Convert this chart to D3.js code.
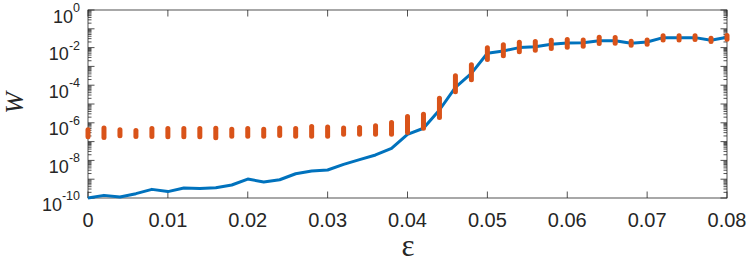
<!DOCTYPE html>
<html><head><meta charset="utf-8">
<script src="https://cdn.jsdelivr.net/npm/d3@7"></script>
<style>body{margin:0;background:#fff}svg{display:block}</style>
</head><body>
<svg id="chart" width="747" height="263"></svg>
<script>
const epsilon = [0,0.002,0.004,0.006,0.008,0.01,0.012,0.014,0.016,0.018,0.02,0.022,0.024,0.026,0.028,0.03,0.032,0.034,0.036,0.038,0.04,0.042,0.044,0.046,0.048,0.05,0.052,0.054,0.056,0.058,0.06,0.062,0.064,0.066,0.068,0.07,0.072,0.074,0.076,0.078,0.08];
const wLine = [1.0e-10,1.38e-10,1.12e-10,1.70e-10,2.88e-10,2.19e-10,3.39e-10,3.16e-10,3.55e-10,4.90e-10,1.02e-9,7.08e-10,9.33e-10,1.95e-9,2.75e-9,3.09e-9,6.17e-9,1.10e-8,1.95e-8,4.37e-8,2.45e-7,5.13e-7,4.79e-6,7.76e-5,4.27e-4,5.01e-3,6.61e-3,1.00e-2,1.12e-2,1.51e-2,1.74e-2,1.82e-2,2.34e-2,2.34e-2,1.70e-2,2.00e-2,3.39e-2,3.39e-2,3.39e-2,2.45e-2,3.55e-2];
const errHigh = [4.27e-7,5.37e-7,4.27e-7,3.89e-7,5.01e-7,5.01e-7,5.01e-7,5.01e-7,5.13e-7,4.57e-7,5.01e-7,4.57e-7,5.37e-7,5.01e-7,6.31e-7,5.89e-7,5.37e-7,5.62e-7,6.92e-7,1.05e-6,2.19e-6,2.88e-6,2.04e-5,3.16e-4,1.23e-3,9.77e-3,1.41e-2,1.95e-2,2.09e-2,2.45e-2,2.69e-2,2.57e-2,3.55e-2,3.47e-2,2.19e-2,2.57e-2,4.27e-2,4.27e-2,4.27e-2,3.16e-2,4.37e-2];
const errLow = [1.82e-7,1.66e-7,2.04e-7,1.86e-7,1.86e-7,1.82e-7,1.82e-7,1.82e-7,1.58e-7,1.95e-7,1.95e-7,1.95e-7,2.09e-7,1.95e-7,1.95e-7,1.95e-7,2.45e-7,2.45e-7,2.45e-7,2.45e-7,3.02e-7,5.13e-7,1.91e-6,4.47e-5,1.95e-4,2.34e-3,3.63e-3,6.03e-3,7.24e-3,8.91e-3,1.05e-2,1.17e-2,1.66e-2,1.70e-2,1.35e-2,1.51e-2,2.57e-2,2.57e-2,2.69e-2,2.09e-2,2.82e-2];
const xTicks = [0,0.01,0.02,0.03,0.04,0.05,0.06,0.07,0.08];
const xTickLabels = ["0","0.01","0.02","0.03","0.04","0.05","0.06","0.07","0.08"];
const yLabelExps = [0,-2,-4,-6,-8,-10];

const L=88, R=727, T=10, B=198;
const axisColor = "#262626";
const svg = d3.select("#chart");
const x = d3.scaleLinear().domain([0,0.08]).range([L,R]);
const y = d3.scaleLog().domain([1e-10,1]).range([B,T]);

const majorY = d3.range(-10,1).map(e=>Math.pow(10,e));
const minorY = [];
for (let e=-10;e<0;e++) for (let m=2;m<=9;m++) minorY.push(m*Math.pow(10,e));

const g = svg.append("g");
g.append("rect").attr("x",L).attr("y",T).attr("width",R-L).attr("height",B-T)
 .attr("fill","none").attr("stroke",axisColor).attr("stroke-width",0.8);

const tickG = g.append("g").attr("stroke",axisColor).attr("stroke-width",0.8);
const majLen = 6.5, minLen = 3.5;
xTicks.forEach(v=>{
  tickG.append("line").attr("x1",x(v)).attr("x2",x(v)).attr("y1",B).attr("y2",B-majLen);
  tickG.append("line").attr("x1",x(v)).attr("x2",x(v)).attr("y1",T).attr("y2",T+majLen);
});
majorY.forEach(v=>{
  tickG.append("line").attr("x1",L).attr("x2",L+majLen).attr("y1",y(v)).attr("y2",y(v));
  tickG.append("line").attr("x1",R).attr("x2",R-majLen).attr("y1",y(v)).attr("y2",y(v));
});
minorY.forEach(v=>{
  tickG.append("line").attr("x1",L).attr("x2",L+minLen).attr("y1",y(v)).attr("y2",y(v));
  tickG.append("line").attr("x1",R).attr("x2",R-minLen).attr("y1",y(v)).attr("y2",y(v));
});

xTicks.forEach((v,i)=>{
  g.append("text").attr("x",x(v)).attr("y",226.5).attr("text-anchor","middle")
   .attr("font-family","Liberation Sans, Arial, sans-serif").attr("font-size",20)
   .attr("fill",axisColor).text(xTickLabels[i]);
});
yLabelExps.forEach(e=>{
  const yy = y(Math.pow(10,e));
  const t = g.append("text").attr("x",80).attr("y",yy+12.5).attr("text-anchor","end")
   .attr("font-family","Liberation Sans, Arial, sans-serif").attr("font-size",18).attr("fill",axisColor);
  t.append("tspan").text("10");
  t.append("tspan").attr("dy",-10.5).attr("font-size",12.5).text(String(e));
});

g.append("text").attr("x",408).attr("y",256).attr("text-anchor","middle")
 .attr("font-family","Liberation Serif, Times New Roman, serif").attr("font-size",31)
 .attr("fill",axisColor).text("ε");
g.append("text").attr("transform","translate(23,103) rotate(-90)").attr("text-anchor","middle")
 .attr("font-family","Liberation Serif, Times New Roman, serif").attr("font-style","italic").attr("font-size",26)
 .attr("fill",axisColor).text("W");

const line = d3.line().x((d,i)=>x(epsilon[i])).y(d=>y(d));
g.append("path").datum(wLine).attr("d",line).attr("fill","none")
 .attr("stroke","#0072BD").attr("stroke-width",3).attr("stroke-linejoin","round");

g.append("g").selectAll("line").data(epsilon).join("line")
 .attr("x1",d=>x(d)).attr("x2",d=>x(d))
 .attr("y1",(d,i)=>y(errLow[i])).attr("y2",(d,i)=>y(errHigh[i]))
 .attr("stroke","#D95319").attr("stroke-width",5).attr("stroke-linecap","round");
</script>
</body></html>
